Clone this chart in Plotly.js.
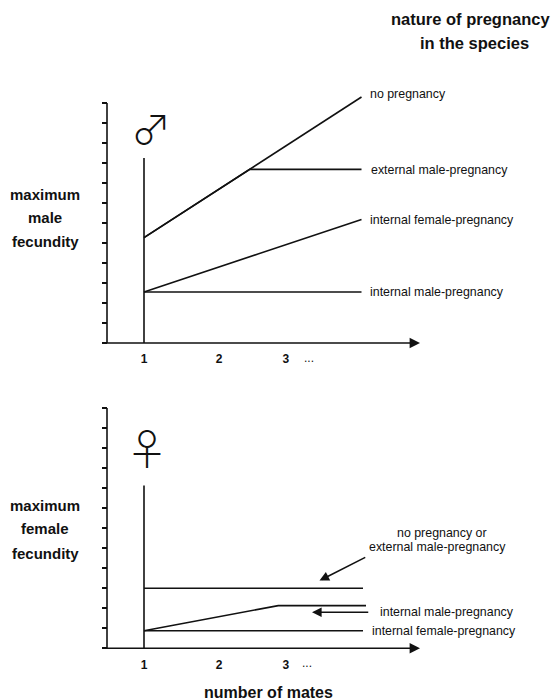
<!DOCTYPE html>
<html><head><meta charset="utf-8">
<script src="https://cdn.plot.ly/plotly-3.0.1.min.js"></script>
<style>html,body{margin:0;padding:0;background:#fff}</style>
</head><body><div id="chart" style="width:555px;height:700px"></div>
<script>
// ---------- data: male panel ----------
const maleNoPregX = [1, 3.9];
const maleNoPregY = [5.27, 12.3];
const maleExtMaleX = [1, 2.41, 3.9];
const maleExtMaleY = [5.27, 8.68, 8.68];
const maleIntFemaleX = [1, 3.9];
const maleIntFemaleY = [2.55, 6.18];
const maleIntMaleX = [1, 3.9];
const maleIntMaleY = [2.55, 2.55];
const maleOneMateX = [1, 1];
const maleOneMateY = [0, 9.25];
// ---------- data: female panel ----------
const femNoPregExtX = [1, 3.92];
const femNoPregExtY = [3.0, 3.0];
const femIntMaleX = [1, 2.79, 3.96];
const femIntMaleY = [0.88, 2.13, 2.13];
const femIntFemaleX = [1, 3.92];
const femIntFemaleY = [0.88, 0.88];
const femOneMateX = [1, 1];
const femOneMateY = [0, 8.13];
// ---------- ticks / labels ----------
const yTickVals = [0,1,2,3,4,5,6,7,8,9,10,11,12];
const xTickVals = [1, 2, 2.89];
const xTickText = ['1', '2', '3'];
const maleLabels = ['no pregnancy', 'external male-pregnancy', 'internal female-pregnancy', 'internal male-pregnancy'];
const femLabels = ['no pregnancy or', 'external male-pregnancy', 'internal male-pregnancy', 'internal female-pregnancy'];

const W = 555, H = 700;
const P = px => px / W;
const Q = py => 1 - py / H;
const FONT = 'Liberation Sans, Arial, sans-serif';
const INK = '#111';

function line(x, y, xa, ya) {
  return {x: x, y: y, xaxis: xa, yaxis: ya, mode: 'lines', type: 'scatter',
    line: {color: INK, width: 1.6}, hoverinfo: 'skip', showlegend: false};
}
const traces = [
  line(maleOneMateX, maleOneMateY, 'x', 'y'),
  line(maleNoPregX, maleNoPregY, 'x', 'y'),
  line(maleExtMaleX, maleExtMaleY, 'x', 'y'),
  line(maleIntFemaleX, maleIntFemaleY, 'x', 'y'),
  line(maleIntMaleX, maleIntMaleY, 'x', 'y'),
  line(femOneMateX, femOneMateY, 'x2', 'y2'),
  line(femNoPregExtX, femNoPregExtY, 'x2', 'y2'),
  line(femIntMaleX, femIntMaleY, 'x2', 'y2'),
  line(femIntFemaleX, femIntFemaleY, 'x2', 'y2')
];

const xBase = {
  domain: [0, 1], range: [-0.92, 6.48], showgrid: false, zeroline: false, showline: false,
  tickmode: 'array', tickvals: xTickVals, ticktext: xTickText,
  ticks: 'outside', ticklen: 5, tickcolor: 'rgba(0,0,0,0)',
  tickfont: {family: FONT, size: 12, color: INK, weight: 'bold'}, fixedrange: true
};
const yBase = {
  range: [0, 13], showgrid: false, zeroline: false, showline: false,
  tickmode: 'array', tickvals: yTickVals, showticklabels: false,
  ticks: 'outside', ticklen: 5, tickwidth: 1.6, tickcolor: INK,
  anchor: 'free', position: P(107), fixedrange: true
};

function txt(text, px, py, size, bold, xanchor) {
  return {text: text, xref: 'paper', yref: 'paper', x: P(px), y: Q(py), showarrow: false,
    xanchor: xanchor || 'center', yanchor: 'middle',
    font: {family: FONT, size: size, color: INK, weight: bold ? 'bold' : 'normal'}};
}
function arrow(xr, yr, hx, hy, tx, ty, size) {
  return {text: '', xref: xr, yref: yr, axref: xr, ayref: yr, x: hx, y: hy, ax: tx, ay: ty,
    showarrow: true, arrowhead: 2, arrowsize: size, arrowwidth: 1.6, arrowcolor: INK, standoff: 0, startstandoff: 0};
}

const annotations = [
  txt('nature of pregnancy', 470, 19, 16.5, true),
  txt('in the species', 474, 43, 16.5, true),
  txt('maximum', 45, 194, 15, true),
  txt('male', 45, 217, 15, true),
  txt('fecundity', 45, 242, 15, true),
  txt('maximum', 45, 505, 15, true),
  txt('female', 45, 528, 15, true),
  txt('fecundity', 45, 553, 15, true),
  txt('number of mates', 268, 692, 16, true),
  txt('...', 309, 358, 12, false),
  txt('...', 307, 663, 12, false),
  txt(maleLabels[0], 368, 94, 12.4, false, 'left'),
  txt(maleLabels[1], 369, 170, 12.4, false, 'left'),
  txt(maleLabels[2], 368, 220, 12.4, false, 'left'),
  txt(maleLabels[3], 368, 292, 12.4, false, 'left'),
  txt(femLabels[0], 442, 533, 12.4, false),
  txt(femLabels[1], 437, 547, 12.4, false),
  txt(femLabels[2], 378, 612, 12.4, false, 'left'),
  txt(femLabels[3], 370, 631, 12.4, false, 'left'),
  {text: '\u2642', xref: 'paper', yref: 'paper', x: P(151), y: Q(127), showarrow: false,
   xanchor: 'center', yanchor: 'middle', font: {family: 'Noto Sans CJK JP', size: 40, color: INK, weight: 300}},
  {text: '\u2640', xref: 'paper', yref: 'paper', x: P(147), y: Q(446), showarrow: false,
   xanchor: 'center', yanchor: 'middle', font: {family: 'Noto Sans CJK JP', size: 42, color: INK, weight: 300}},
  // x axes with arrows
  arrow('x', 'y', 4.68, 0, 0.44, 0, 1.3),
  arrow('x2', 'y2', 4.68, 0, 0.44, 0, 1.3),
  // pointer arrows in female panel
  arrow('x2', 'y2', 3.34, 3.38, 3.97, 4.58, 1.2),
  arrow('x2', 'y2', 3.24, 1.8, 4.01, 1.8, 1.2)
];

const shapes = [
  {type: 'line', xref: 'paper', yref: 'y', x0: P(107), x1: P(107), y0: 0, y1: 12, line: {color: INK, width: 1.6}},
  {type: 'line', xref: 'paper', yref: 'y2', x0: P(107), x1: P(107), y0: 0, y1: 12, line: {color: INK, width: 1.6}}
];

const layout = {
  width: W, height: H, margin: {l: 0, r: 0, t: 0, b: 0},
  paper_bgcolor: '#fff', plot_bgcolor: 'rgba(0,0,0,0)', showlegend: false,
  xaxis: Object.assign({}, xBase, {anchor: 'y'}),
  xaxis2: Object.assign({}, xBase, {anchor: 'y2'}),
  yaxis: Object.assign({}, yBase, {domain: [Q(343), Q(83)]}),
  yaxis2: Object.assign({}, yBase, {domain: [Q(648.3), Q(388)]}),
  annotations: annotations, shapes: shapes
};
Plotly.newPlot('chart', traces, layout, {displayModeBar: false, staticPlot: true});
</script></body></html>
